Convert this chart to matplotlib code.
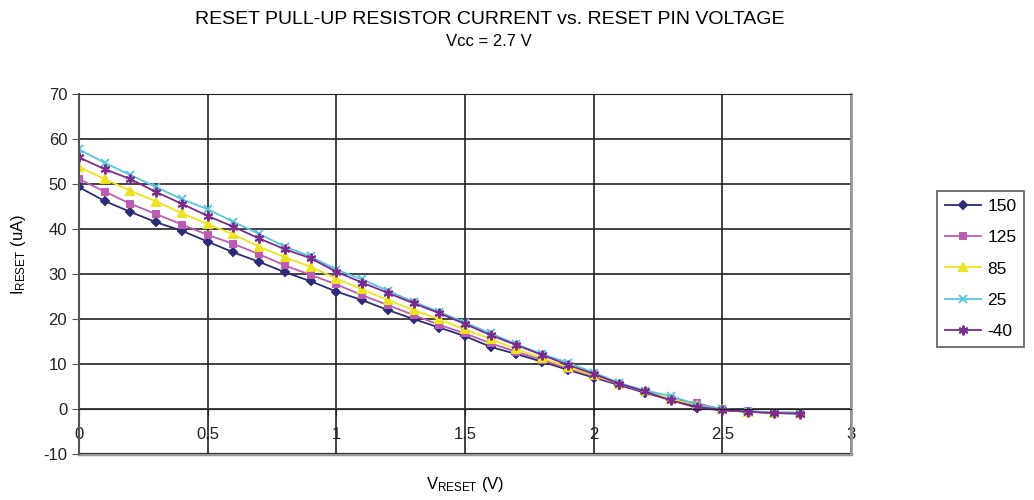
import matplotlib
matplotlib.use('Agg')
import matplotlib.pyplot as plt

plt.rcParams['font.family'] = ['Liberation Sans', 'DejaVu Sans']
plt.rcParams['mathtext.fontset'] = 'custom'
plt.rcParams['mathtext.rm'] = 'Liberation Sans'
plt.rcParams['mathtext.it'] = 'Liberation Sans'
plt.rcParams['axes.unicode_minus'] = False

# reset pin voltage (V)
v_reset = [0.0, 0.1, 0.2, 0.3, 0.4, 0.5, 0.6, 0.7, 0.8, 0.9,
           1.0, 1.1, 1.2, 1.3, 1.4, 1.5, 1.6, 1.7, 1.8, 1.9,
           2.0, 2.1, 2.2, 2.3, 2.4, 2.5, 2.6, 2.7, 2.8]

# pull-up current (uA) per temperature
i_150 = [49.3, 46.2, 43.8, 41.5, 39.6, 37.2, 34.8, 32.7, 30.4, 28.4,
         26.1, 24.2, 22.0, 20.0, 18.1, 16.2, 13.8, 12.2, 10.5, 8.7,
         7.0, 5.3, 3.6, 2.0, 0.3, -0.3, -0.6, -0.9, -1.0]
i_125 = [51.1, 48.3, 45.6, 43.3, 41.0, 38.7, 36.7, 34.4, 31.9, 29.8,
         27.7, 25.3, 23.1, 20.9, 18.7, 16.8, 14.6, 12.7, 10.9, 9.0,
         7.3, 5.5, 3.8, 2.2, 1.3, -0.1, -0.5, -0.8, -0.8]
i_85 = [53.8, 51.1, 48.5, 46.1, 43.5, 41.1, 38.8, 36.1, 33.7, 31.6,
        29.0, 26.6, 24.2, 22.0, 19.9, 17.7, 15.5, 13.3, 11.3, 9.3,
        7.5, 5.6, 3.9, 2.2, 0.8, -0.1, -0.6, -0.8, -0.8]
i_25 = [57.7, 54.7, 52.0, 49.3, 46.6, 44.4, 41.6, 38.9, 36.1, 33.9,
        31.0, 28.8, 26.3, 23.8, 21.6, 19.2, 16.8, 14.4, 12.2, 10.3,
        8.1, 5.8, 4.1, 2.9, 1.0, 0.0, -0.5, -0.8, -0.8]
i_m40 = [55.9, 53.3, 51.1, 48.2, 45.6, 42.9, 40.5, 37.9, 35.5, 33.5,
         30.5, 28.1, 25.8, 23.5, 21.3, 18.9, 16.4, 14.2, 12.0, 9.8,
         7.8, 5.6, 3.9, 1.9, 0.5, -0.2, -0.6, -0.9, -1.0]

labels = ['150', '125', '85', '25', '-40']
series = [i_150, i_125, i_85, i_25, i_m40]
colors = ['#2b2b78', '#bb5cb4', '#ece41c', '#58c6dc', '#7b2a8e']
markers = ['D', 's', '^', 'x', (6, 2, 0)]
msizes = [4.5, 5, 6, 6, 7]

fig = plt.figure(figsize=(10.34, 5.0), dpi=100)
ax = fig.add_axes([0.0764, 0.092, 0.7466, 0.72])

for y, lab, c, m, ms in zip(series, labels, colors, markers, msizes):
    ax.plot(v_reset, y, color=c, marker=m, markersize=ms, lw=1.3,
            markeredgewidth=1.4, label=lab)

ax.set_xlim(0, 3)
ax.set_ylim(-10, 70)
ax.set_xticks([0, 0.5, 1, 1.5, 2, 2.5, 3])
ax.set_xticklabels(['0', '0.5', '1', '1.5', '2', '2.5', '3'])
ax.set_yticks(range(-10, 71, 10))
ax.grid(True, color='#222222', lw=1.2)
ax.set_axisbelow(True)

# x axis crosses at y = 0
ax.spines['bottom'].set_position(('data', 0))
ax.spines['bottom'].set_color('#222222')
ax.spines['left'].set_color('#555555')
ax.spines['left'].set_linewidth(1.5)
ax.spines['top'].set_color('#222222')
ax.spines['right'].set_color('#999999')
ax.spines['right'].set_linewidth(2)
ax.axhline(-10, color='#999999', lw=2.5, clip_on=False, zorder=0)

ax.tick_params(axis='x', direction='out', length=5, pad=8, labelsize=12,
               color='#222222', labelcolor='#222222')
ax.tick_params(axis='y', direction='out', length=5, labelsize=12,
               color='#555555', labelcolor='#222222')

ax.set_ylabel(r'I$_{\mathrm{RESET}}$ (uA)', fontsize=12)
ax.yaxis.set_label_coords(-0.066, 0.555)
fig.text(0.45, 0.022, r'V$_{\mathrm{RESET}}$ (V)', fontsize=12, ha='center')

fig.text(0.474, 0.962, 'RESET PULL-UP RESISTOR CURRENT vs. RESET PIN VOLTAGE',
         ha='center', va='center', fontsize=14)
fig.text(0.473, 0.918, 'Vcc = 2.7 V', ha='center', va='center', fontsize=12)

leg = ax.legend(loc='center left', bbox_to_anchor=(0.906, 0.462),
                bbox_transform=fig.transFigure, fontsize=12.5, frameon=True,
                fancybox=False, edgecolor='#333333', handlelength=2.1,
                labelspacing=0.93, borderpad=0.45, handletextpad=0.35,
                borderaxespad=0)
leg.get_frame().set_linewidth(1.2)

fig.savefig('out.png', dpi=100)
